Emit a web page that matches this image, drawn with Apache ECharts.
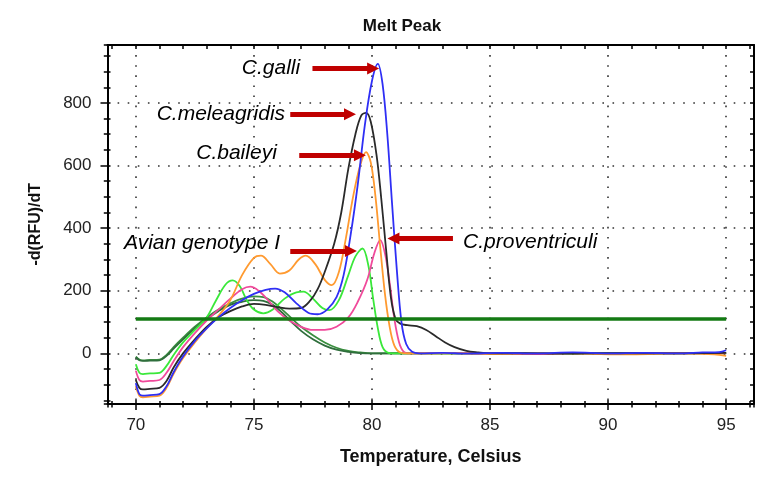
<!DOCTYPE html>
<html>
<head>
<meta charset="utf-8">
<script src="https://cdn.jsdelivr.net/npm/echarts@6/dist/echarts.min.js"></script>
<style>
html,body{margin:0;padding:0;background:#fff;}
#chart{width:779px;height:484px;}
</style>
</head>
<body>
<div id="chart"></div>
<script>
// ---- data (temperature °C, -d(RFU)/dT) ----
const cGalli = [[70,-95],[70.15,-130],[70.3,-135],[70.6,-133],[71,-130],[71.3,-105],[71.6,-60],[72,-10],[72.5,40],[73,80],[73.5,115],[74,145],[74.5,170],[75,190],[75.5,203],[75.9,207],[76.3,195],[76.8,160],[77.3,130],[77.7,125],[78.1,140],[78.5,180],[78.8,250],[79.1,380],[79.4,540],[79.7,730],[80,870],[80.25,925],[80.45,860],[80.65,700],[80.85,480],[81.05,270],[81.25,100],[81.45,30],[81.7,5],[82,0],[83,2],[84,-1],[85.5,2],[87,0],[88.5,3],[90,0],[91.5,2],[93,0],[94,3],[94.7,4],[95,10]];
const cMeleagridis = [[70,-85],[70.15,-110],[70.3,-115],[70.6,-113],[71,-110],[71.3,-88],[71.6,-45],[72,0],[72.5,45],[73,85],[73.5,115],[74,135],[74.5,150],[75,158],[75.5,155],[76,148],[76.5,143],[77,145],[77.4,170],[77.7,205],[78,260],[78.4,350],[78.7,450],[79,590],[79.3,700],[79.55,760],[79.75,768],[79.95,740],[80.2,630],[80.4,490],[80.6,330],[80.8,180],[81,110],[81.2,95],[81.5,90],[81.9,87],[82.3,75],[82.7,55],[83.1,35],[83.5,20],[84,8],[84.5,3],[85,0],[86.5,1],[88,-1],[90,1],[92,0],[94,1],[95,2]];
const cBaileyi = [[70,-105],[70.15,-135],[70.3,-140],[70.6,-138],[71,-135],[71.3,-110],[71.6,-65],[72,-15],[72.5,35],[73,80],[73.5,120],[74,170],[74.5,250],[75,305],[75.3,312],[75.7,285],[76.1,255],[76.5,265],[76.9,300],[77.2,312],[77.6,285],[78,235],[78.3,218],[78.6,260],[78.9,370],[79.2,500],[79.5,600],[79.75,643],[79.95,610],[80.15,500],[80.35,340],[80.55,190],[80.75,85],[80.95,25],[81.2,3],[81.5,0],[83,1],[85,-2],[87,1],[89,-1],[91,-3],[93,0],[94.5,-3],[95,-8]];
const cAvianI = [[70,-35],[70.15,-62],[70.3,-66],[70.6,-64],[71,-62],[71.3,-40],[71.6,-5],[72,35],[72.5,75],[73,115],[73.4,170],[73.8,220],[74.1,233],[74.4,215],[74.7,170],[75,140],[75.4,128],[75.8,140],[76.3,175],[76.8,195],[77.1,197],[77.5,175],[77.9,145],[78.2,138],[78.6,170],[79,250],[79.3,310],[79.6,335],[79.85,280],[80.05,175],[80.25,80],[80.45,20],[80.7,2],[81,0],[83,1],[85,0],[87,2],[89,0],[91,1],[93,0],[95,2]];
const cProventriculi = [[70,-55],[70.15,-85],[70.3,-90],[70.6,-88],[71,-85],[71.3,-62],[71.6,-25],[72,20],[72.5,65],[73,105],[73.5,140],[74,175],[74.5,205],[74.85,213],[75.2,200],[75.6,170],[76,135],[76.5,105],[77,85],[77.5,75],[78,75],[78.5,85],[79,115],[79.4,165],[79.8,235],[80.1,320],[80.35,362],[80.55,320],[80.75,225],[80.95,110],[81.15,35],[81.35,5],[81.6,0],[83,1],[85,0],[87,-2],[88.5,1],[90,-1],[92,1],[94,0],[95,1]];
const cDarkGreenA = [[70,-10],[70.15,-20],[70.3,-22],[70.6,-21],[71,-20],[71.3,-5],[71.6,20],[72,50],[72.5,85],[73,115],[73.5,140],[74,160],[74.5,175],[75,182],[75.4,180],[75.8,165],[76.2,140],[76.6,112],[77,85],[77.5,58],[78,35],[78.5,18],[79,8],[79.5,3],[80,0],[82,1],[85,0],[88,1],[91,0],[95,1]];
const cDarkGreenB = [[70,-12],[70.15,-22],[70.3,-24],[70.6,-23],[71,-22],[71.3,-8],[71.6,15],[72,45],[72.5,80],[73,110],[73.5,135],[74,155],[74.5,165],[75,170],[75.4,168],[75.8,155],[76.2,130],[76.6,100],[77,72],[77.5,45],[78,25],[78.5,12],[79,5],[79.5,1],[80,0],[83,0],[86,1],[89,0],[92,1],[95,0]];
const threshold = [[70,110],[95,110]];

// annotations: label anchor [temp, value], arrow start / tip
const noteNames = ['C.galli','C.meleagridis','C.baileyi','Avian genotype I','C.proventriculi'];
const noteAnchor = [[76.96,910],[76.32,764],[75.97,638],[76.11,351],[83.86,356]];
const noteSide = ['left','left','left','left','right'];
const arrowFrom = [[77.48,910],[76.54,764],[76.92,633],[76.54,327],[83.43,367]];
const arrowTo = [[80.05,910],[79.07,764],[79.49,633],[79.11,327],[80.91,367]];

const xTickLabels = [70,75,80,85,90,95];
const yTickLabels = [0,200,400,600,800];

const XMIN = 68.8, XMAX = 96.18, YMIN = -160, YMAX = 985;
const FONT = "'Liberation Sans', Arial, sans-serif";

const chart = echarts.init(document.getElementById('chart'), null, {renderer:'canvas'});

function xAx(extra){
  const base = {type:'value', min:XMIN, max:XMAX, position:'bottom',
    axisLine:{show:false, onZero:false}, axisLabel:{show:false}, splitLine:{show:false}, axisTick:{show:false}};
  const o = Object.assign(base, extra);
  o.axisLine = Object.assign({onZero:false}, o.axisLine);
  return o;
}
function yAx(extra){
  const base = {type:'value', min:YMIN, max:YMAX, position:'left',
    axisLine:{show:false, onZero:false}, axisLabel:{show:false}, splitLine:{show:false}, axisTick:{show:false}};
  const o = Object.assign(base, extra);
  o.axisLine = Object.assign({onZero:false}, o.axisLine);
  return o;
}
const dotted = {show:true, showMinLine:false, showMaxLine:false, lineStyle:{color:'#333', width:1.6, type:[1.6,8.5]}};
const frameLine = {show:true, onZero:false, lineStyle:{color:'#000', width:2}};

const lineSeries = (name, data, color) => ({
  name, type:'line', data, showSymbol:false, smooth:0.35,
  lineStyle:{color, width:1.8}, itemStyle:{color}, silent:true, z:3
});

chart.setOption({
  animation:false,
  backgroundColor:'#fff',
  title:{text:'Melt Peak', left:397, top:13, textAlign:'center',
    textStyle:{fontFamily:FONT, fontWeight:'bold', fontSize:17, color:'#111'}},
  grid:{left:107.5, right:25, top:45, bottom:80.5},
  xAxis:[
    xAx({splitNumber:5, axisLine:frameLine,
      axisTick:{show:true, length:6.5, lineStyle:{color:'#000', width:1.5}},
      axisLabel:{show:true, showMinLabel:false, showMaxLabel:false, margin:13, fontFamily:FONT, fontSize:17, color:'#222',
        formatter:v => xTickLabels.includes(Math.round(v)) ? String(Math.round(v)) : ''},
      splitLine:dotted,
      name:'Temperature, Celsius', nameLocation:'middle', nameGap:45,
      nameTextStyle:{fontFamily:FONT, fontWeight:'bold', fontSize:18, color:'#111'}}),
    xAx({splitNumber:27, axisTick:{show:true, length:4, lineStyle:{color:'#000', width:1.5}}}),
    xAx({splitNumber:27, axisTick:{show:true, inside:true, length:2.5, lineStyle:{color:'#000', width:1.5}}}),
    xAx({splitNumber:5, axisTick:{show:true, inside:true, length:3.5, lineStyle:{color:'#000', width:1.5}}}),
    xAx({position:'top', splitNumber:27, axisLine:frameLine,
      axisTick:{show:true, inside:true, length:4, lineStyle:{color:'#000', width:1.5}}})
  ],
  yAxis:[
    yAx({splitNumber:5, axisLine:frameLine,
      axisTick:{show:true, length:7, lineStyle:{color:'#000', width:1.5}},
      axisLabel:{show:true, showMinLabel:false, showMaxLabel:false, margin:16, fontFamily:FONT, fontSize:17, color:'#222',
        formatter:v => yTickLabels.includes(Math.round(v)) ? String(Math.round(v)) : ''},
      splitLine:dotted,
      name:'-d(RFU)/dT', nameLocation:'middle', nameGap:64,
      nameTextStyle:{fontFamily:FONT, fontWeight:'bold', fontSize:16, color:'#111'}}),
    yAx({splitNumber:23, axisTick:{show:true, length:3.7, lineStyle:{color:'#000', width:1.5}}}),
    yAx({splitNumber:23, axisTick:{show:true, inside:true, length:3, lineStyle:{color:'#000', width:1.5}}}),
    yAx({position:'right', splitNumber:23, axisLine:frameLine,
      axisTick:{show:true, inside:true, length:4, lineStyle:{color:'#000', width:1.5}}})
  ],
  series:[
    lineSeries('dark green A', cDarkGreenA, '#3a8f3f'),
    lineSeries('dark green B', cDarkGreenB, '#2f6e3c'),
    lineSeries('Avian genotype I', cAvianI, '#3ae83a'),
    lineSeries('C.proventriculi', cProventriculi, '#f04a9b'),
    lineSeries('C.baileyi', cBaileyi, '#ff9a30'),
    lineSeries('C.meleagridis', cMeleagridis, '#2a2a2a'),
    lineSeries('C.galli', cGalli, '#2f2ff5'),
    {name:'threshold', type:'line', data:threshold, showSymbol:false, silent:true, z:4,
      lineStyle:{color:'#137a13', width:3.5}},
    {name:'notes', type:'scatter', symbolSize:0, silent:true, z:6,
      itemStyle:{opacity:1},
      data: noteNames.map((n,i)=>({name:n, value:noteAnchor[i],
        label:{show:true, position:noteSide[i], distance:0, formatter:'{b}',
          fontFamily:FONT, fontStyle:'italic', fontSize:21, color:'#000', opacity:1}})),
      markLine:{silent:true, animation:false, symbol:['none','triangle'], symbolSize:[12,12],
        label:{show:false},
        lineStyle:{color:'#c00000', width:5, type:'solid', opacity:1},
        emphasis:{disabled:true},
        data: arrowFrom.map((a,i)=>[{coord:a},{coord:arrowTo[i]}])}
    }
  ]
});
</script>
</body>
</html>
